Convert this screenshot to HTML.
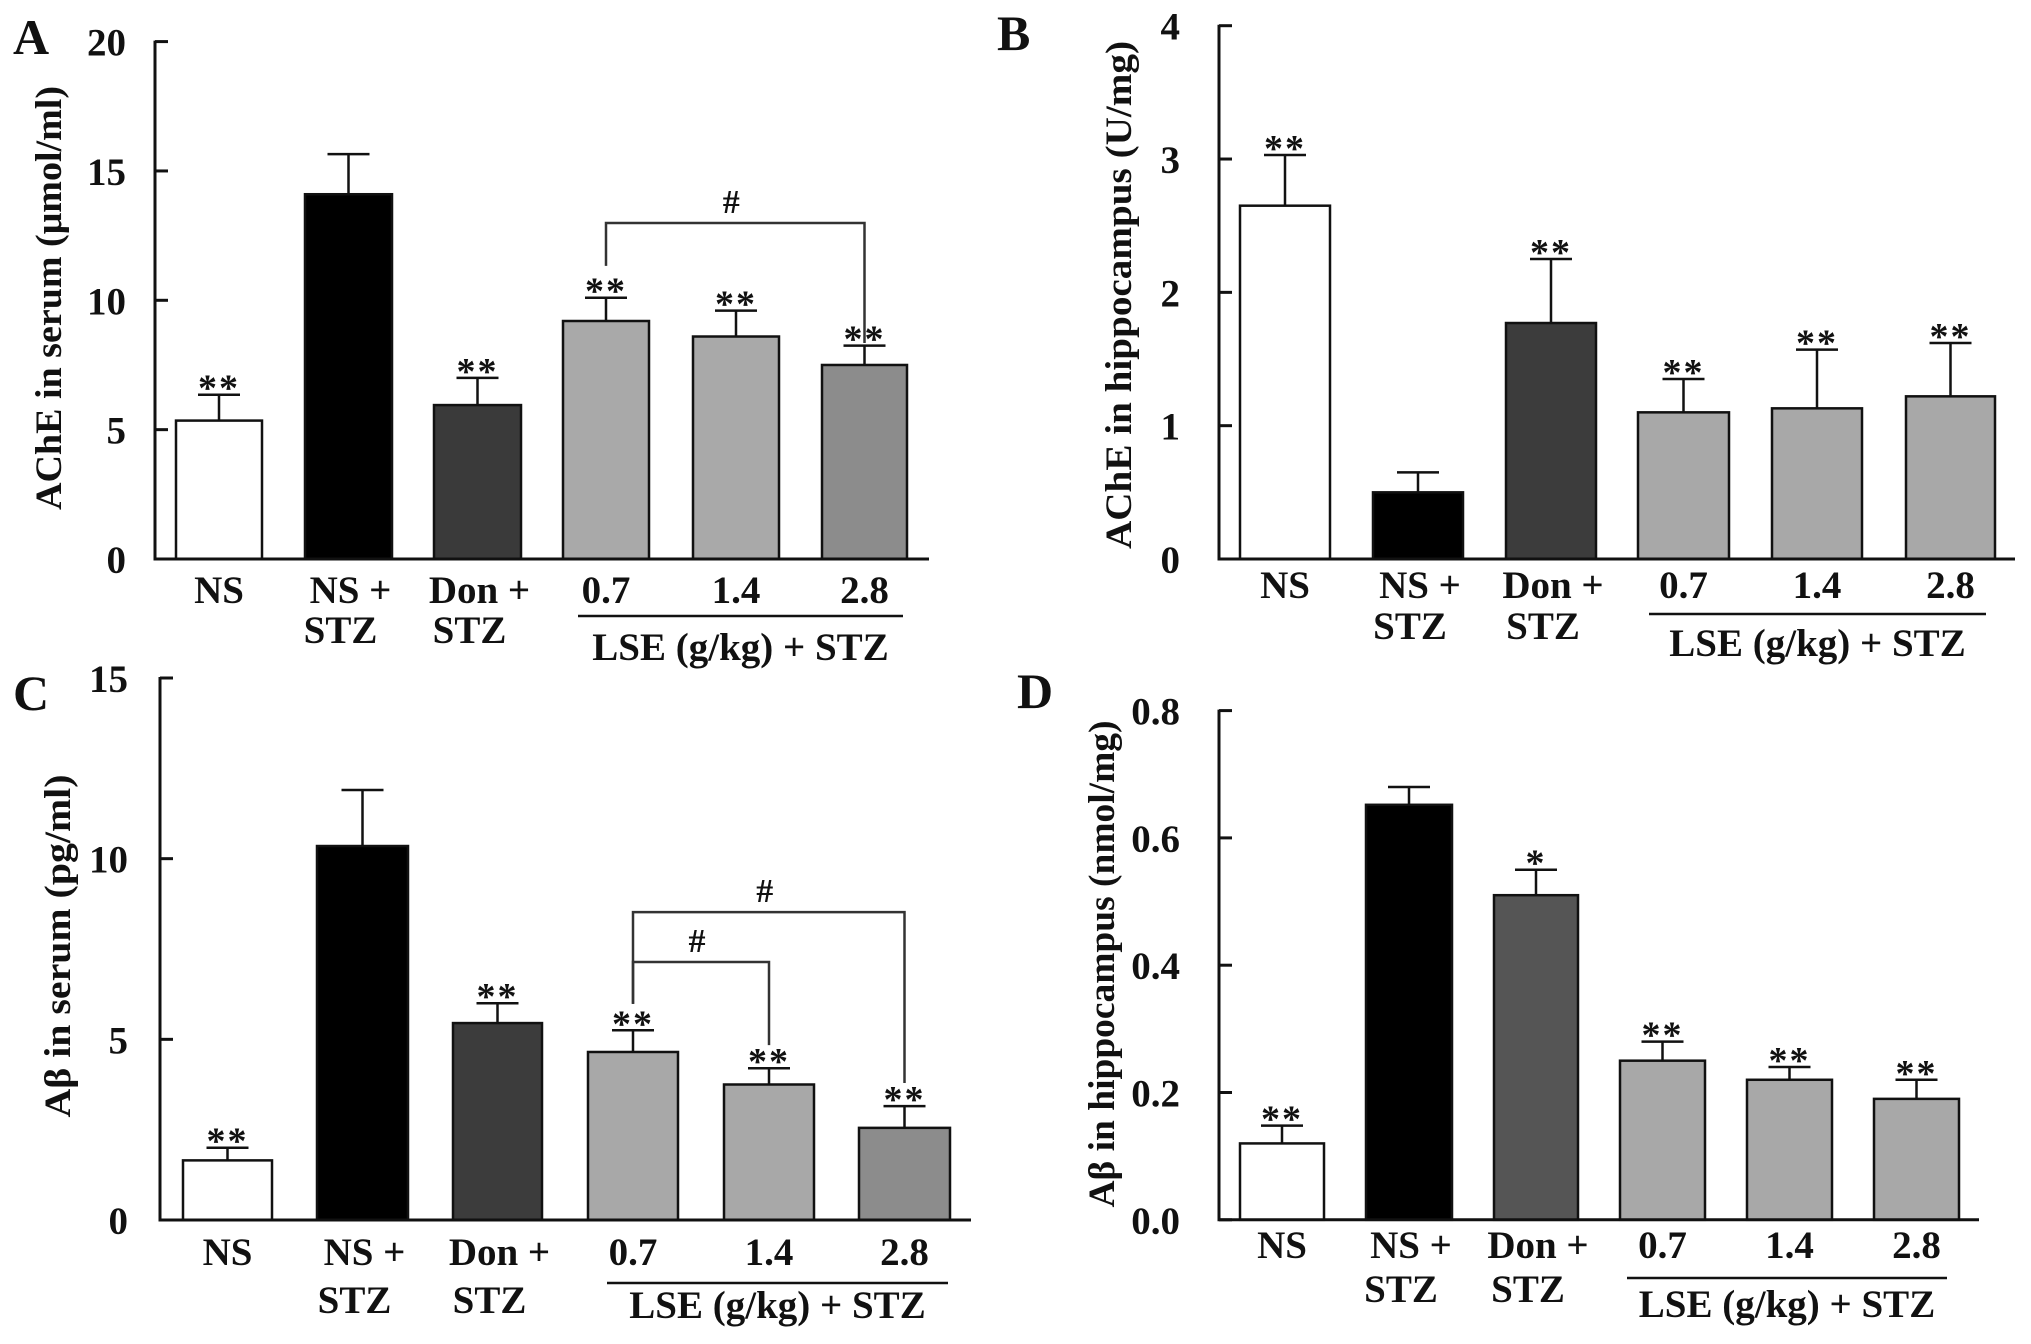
<!DOCTYPE html>
<html><head><meta charset="utf-8"><style>
html,body{margin:0;padding:0;background:#fff;}
svg{display:block;}
text{font-family:"Liberation Serif",serif;font-weight:bold;fill:#111;}
</style></head><body>
<svg id="fig" width="2031" height="1344" viewBox="0 0 2031 1344" xmlns="http://www.w3.org/2000/svg"></svg>
<script>
// ---- data ----
const categories = ["NS", "NS + STZ", "Don + STZ", "0.7", "1.4", "2.8"];
const valuesA = [5.35, 14.1, 5.95, 9.2, 8.6, 7.5];
const errorsA = [1.0, 1.55, 1.05, 0.9, 1.0, 0.75];
const starsA = ["**", "", "**", "**", "**", "**"];
const ticksA = [0, 5, 10, 15, 20];
const valuesB = [2.65, 0.5, 1.77, 1.1, 1.13, 1.22];
const errorsB = [0.38, 0.15, 0.48, 0.25, 0.44, 0.4];
const starsB = ["**", "", "**", "**", "**", "**"];
const ticksB = [0, 1, 2, 3, 4];
const valuesC = [1.65, 10.35, 5.45, 4.65, 3.75, 2.55];
const errorsC = [0.35, 1.55, 0.55, 0.6, 0.45, 0.6];
const starsC = ["**", "", "**", "**", "**", "**"];
const ticksC = [0, 5, 10, 15];
const valuesD = [0.12, 0.652, 0.51, 0.25, 0.22, 0.19];
const errorsD = [0.028, 0.028, 0.04, 0.03, 0.02, 0.03];
const starsD = ["**", "", "*", "**", "**", "**"];
const ticksD = ["0.0", "0.2", "0.4", "0.6", "0.8"];

const NS = "http://www.w3.org/2000/svg";
const svg = document.getElementById('fig');
function el(tag, attrs, parent) {
  const e = document.createElementNS(NS, tag);
  for (const k in attrs) e.setAttribute(k, attrs[k]);
  (parent || svg).appendChild(e);
  return e;
}

const panels = [
  {id:'a', letter:'A', lx:13, ly:54, ax:155, y0:559, yTop:41.6, max:20, xEnd:929,
   bars:[[176,262],[305,392],[434,521],[563,649],[693,779],[822,907]],
   vals:valuesA, errs:errorsA, stars:starsA, ticks:ticksA, tlx:126,
   fills:["#ffffff","#000000","#3a3a3a","#a9a9a9","#a9a9a9","#8c8c8c"],
   cat1:603, cat2:643, ul:616, ulx:[578,903], lse:660,
   ylab:"AChE in serum (μmol/ml)", ylx:49, ylc:298, yll:424,
   brackets:[{from:3,to:5,top:12.99,lb:11.33,rb:8.35}]},
  {id:'b', letter:'B', lx:997, ly:50, ax:1219, y0:559, yTop:25.7, max:4, xEnd:2015,
   bars:[[1240,1330],[1373,1463],[1506,1596],[1638,1729],[1772,1862],[1906,1995]],
   vals:valuesB, errs:errorsB, stars:starsB, ticks:ticksB, tlx:1180,
   fills:["#ffffff","#000000","#3c3c3c","#a8a8a8","#a8a8a8","#a8a8a8"],
   cat1:598, cat2:639, ul:614, ulx:[1649,1986], lse:656,
   ylab:"AChE in hippocampus (U/mg)", ylx:1119, ylc:295, yll:508, brackets:[]},
  {id:'c', letter:'C', lx:13, ly:710, ax:160, y0:1220, yTop:678, max:15, xEnd:971,
   bars:[[183,272],[317,408],[453,542],[588,678],[724,814],[859,950]],
   vals:valuesC, errs:errorsC, stars:starsC, ticks:ticksC, tlx:128,
   fills:["#ffffff","#000000","#3c3c3c","#a8a8a8","#a8a8a8","#8c8c8c"],
   cat1:1265, cat2:1313, ul:1283, ulx:[607,948], lse:1318,
   ylab:"Aβ in serum (pg/ml)", ylx:58, ylc:946, yll:343,
   brackets:[{from:3,to:5,top:8.52,lb:5.98,rb:3.79},{from:3,to:4,top:7.14,lb:5.98,rb:4.84}]},
  {id:'d', letter:'D', lx:1017, ly:708, ax:1219, y0:1219.8, yTop:710.6, max:0.8, xEnd:1979,
   bars:[[1240,1324],[1366,1452],[1494,1578],[1620,1705],[1747,1832],[1874,1959]],
   vals:valuesD, errs:errorsD, stars:starsD, ticks:ticksD, tlx:1180,
   fills:["#ffffff","#000000","#555555","#a8a8a8","#a8a8a8","#a8a8a8"],
   cat1:1258, cat2:1302, ul:1278, ulx:[1627,1947], lse:1317,
   ylab:"Aβ in hippocampus (nmol/mg)", ylx:1102, ylc:964, yll:487, brackets:[]}
];

panels.forEach(p => {
  const g = el('g', {});
  
  
  const y = v => p.y0 - (v / p.max) * (p.y0 - p.yTop);
  const cx = i => (p.bars[i][0] + p.bars[i][1]) / 2;

  const lt = el('text', {x:p.lx, y:p.ly, 'font-size':50}, g);
  lt.textContent = p.letter;
  
  

  p.vals.forEach((v, i) => {
    const b = el('rect', {x:p.bars[i][0], y:y(v), width:p.bars[i][1]-p.bars[i][0], height:p.y0-y(v),
      fill:p.fills[i], stroke:'#111', 'stroke-width':2.5}, g);
    
    
    const top = y(v + p.errs[i]);
    const e = el('path', {d:`M${cx(i)} ${y(v)}V${top}M${cx(i)-21} ${top}H${cx(i)+21}`, stroke:'#111', 'stroke-width':2.5, fill:'none'}, g);
    
    
    if (p.stars[i]) {
      const s = el('text', {x:cx(i), y:top + 6, 'font-size':38, 'text-anchor':'middle', 'letter-spacing':2, fill:'#444'}, g);
      s.textContent = p.stars[i];
      
      
    }
  });

  const ax = el('path', {d:`M${p.ax} ${p.yTop-1}V${p.y0}H${p.xEnd}`, stroke:'#111', 'stroke-width':3, fill:'none'}, g);
  
  
  p.ticks.forEach((t, k) => {
    const ty = y(parseFloat(t));
    const tk = el('line', {x1:p.ax, x2:p.ax+13, y1:ty, y2:ty, stroke:'#111', 'stroke-width':3}, g);
    
    
    const tl = el('text', {x:p.tlx, y:ty + 14, 'font-size':39, 'text-anchor':'end'}, g);
    tl.textContent = String(t);
    
    
  });

  const yl = el('text', {x:0, y:0, 'font-size':37, 'text-anchor':'middle', textLength:p.yll, lengthAdjust:'spacingAndGlyphs',
    transform:`translate(${p.ylx+12},${p.ylc}) rotate(-90)`}, g);
  yl.textContent = p.ylab;
  
  

  categories.forEach((c, i) => {
    const parts = c.split(' + ');
    const t1 = el('text', {x:cx(i) + (parts.length > 1 ? 2 : 0), y:p.cat1, 'font-size':39, 'text-anchor':'middle'}, g);
    t1.textContent = parts.length > 1 ? parts[0] + ' +' : c;
    
    
    if (parts.length > 1) {
      const t2 = el('text', {x:cx(i) - 8, y:p.cat2, 'font-size':39, 'text-anchor':'middle'}, g);
      t2.textContent = parts[1];
      
      
    }
  });
  const ul = el('line', {x1:p.ulx[0], x2:p.ulx[1], y1:p.ul, y2:p.ul, stroke:'#111', 'stroke-width':2.5}, g);
  
  
  const lse = el('text', {x:(p.ulx[0]+p.ulx[1])/2, y:p.lse, 'font-size':39, 'text-anchor':'middle'}, g);
  lse.textContent = 'LSE (g/kg) + STZ';
  
  

  p.brackets.forEach((br, k) => {
    const x1 = cx(br.from), x2 = cx(br.to);
    const bp = el('path', {d:`M${x1} ${y(br.lb)}V${y(br.top)}H${x2}V${y(br.rb)}`, stroke:'#333', 'stroke-width':2.5, fill:'none'}, g);
    
    
    const h = el('text', {x:(x1+x2)/2 - 4, y:y(br.top) - 10, 'font-size':34, 'text-anchor':'middle', 'font-weight':'normal', fill:'#333'}, g);
    h.textContent = '#';
    
    
  });
});
</script>
</body></html>
